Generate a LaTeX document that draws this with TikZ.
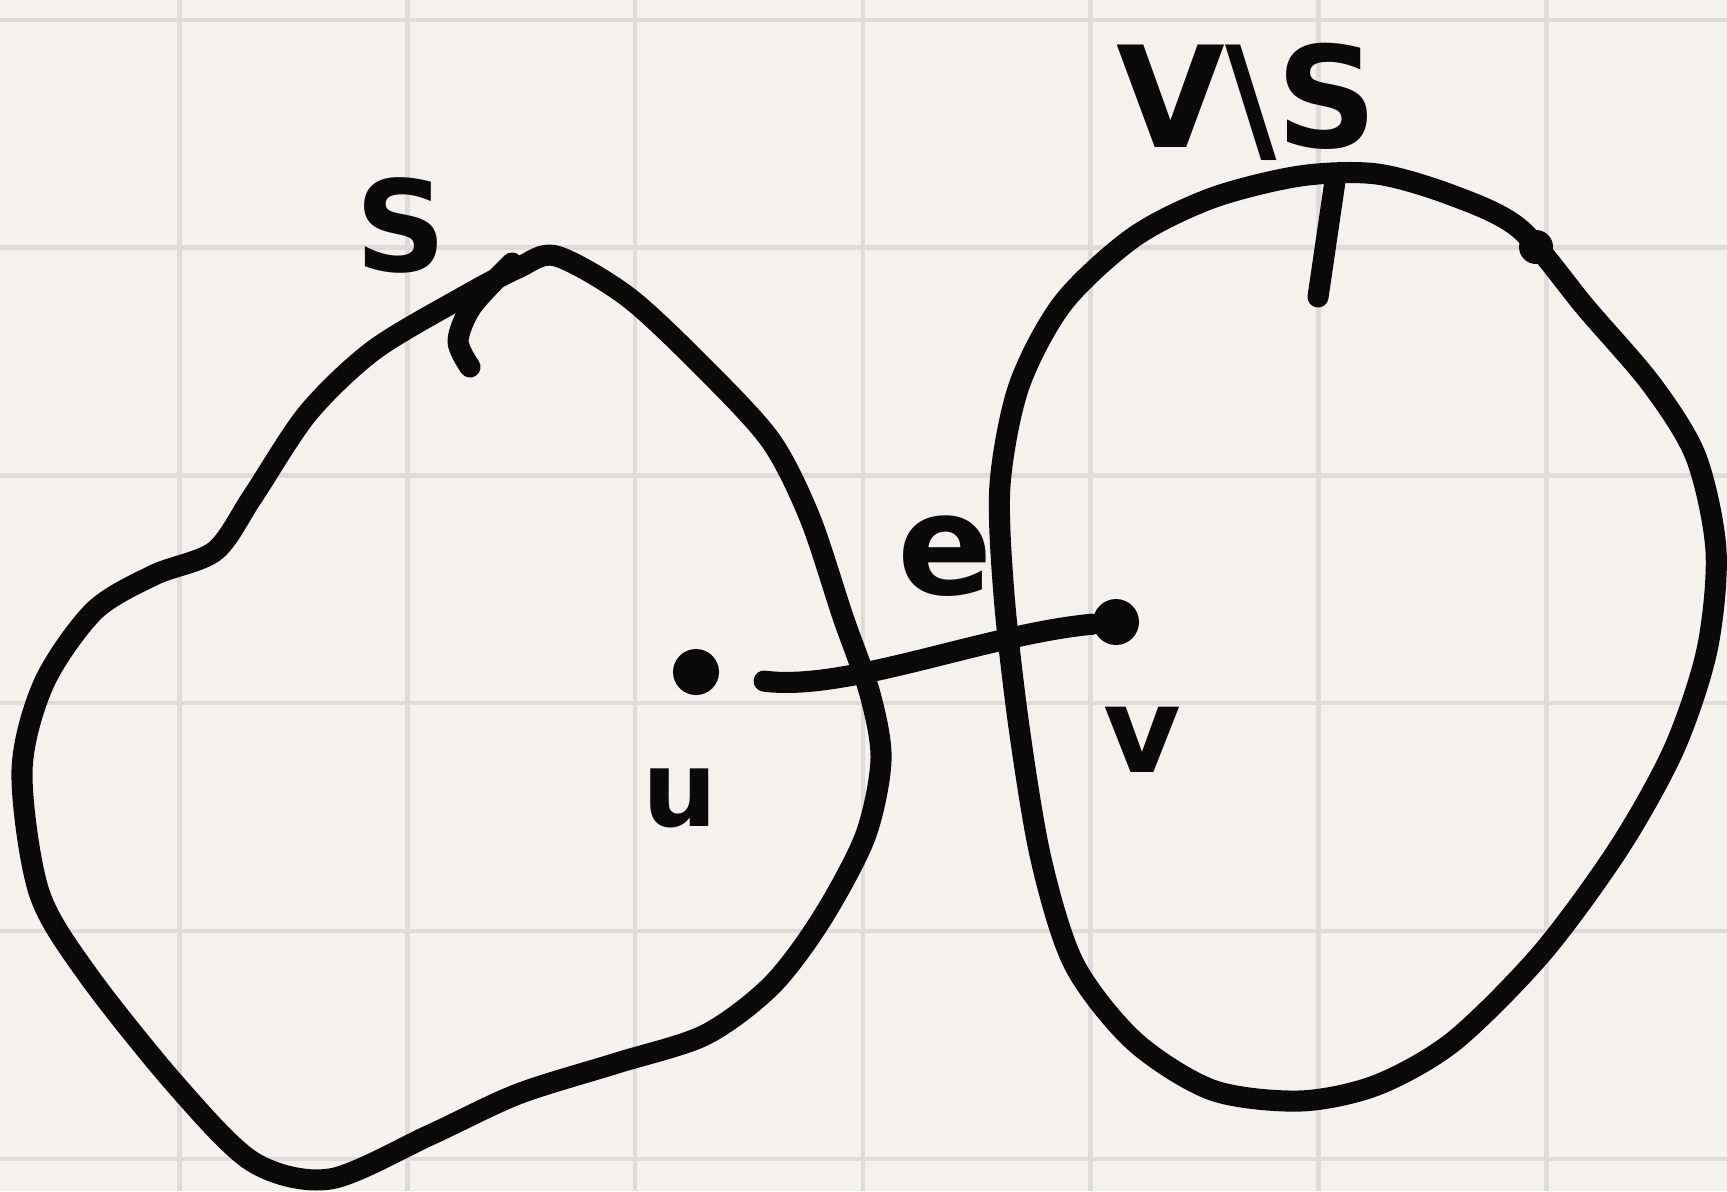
\documentclass[tikz,border=0pt]{standalone}
\usepackage{fontspec}
\setmainfont{DejaVu Sans}
\usetikzlibrary{positioning}
\definecolor{paper}{HTML}{F3F2EE}
\definecolor{gridgray}{HTML}{DDDCDA}
\definecolor{ink}{HTML}{0A0A0A}
\tikzset{
  %% strokes
  pen/.style      = {draw=ink, line width=6pt, line cap=round, line join=round},
  gridline/.style = {draw=gridgray, line width=1.3pt},
  %% nodes
  dot/.style      = {circle, fill=ink, inner sep=0pt, minimum size=4.6mm},
  lbl/.style      = {text=ink, inner sep=0pt, font=\bfseries\fontsize{36}{40}\selectfont},
}

\begin{document}
\begin{tikzpicture}
\useasboundingbox (0,0) rectangle (17.27,11.91);
\fill[paper] (0,0) rectangle (17.27,11.91);

%% ---- grid paper ----
\foreach \i in {0,...,6}
  \draw[gridline] ({1.795+2.278*\i},0) -- ++(0,11.91);
\foreach \j in {0,...,5}
  \draw[gridline] (0,{11.712-2.278*\j}) -- ++(17.27,0);

%% ---- set S (left) ----
\draw[pen] plot[smooth cycle] coordinates {
  (5.56,9.35) (6.28,8.94) (7.05,8.22) (7.71,7.50) (8.10,6.73) (8.43,5.74)
  (8.70,4.97) (8.81,4.31) (8.65,3.54) (8.21,2.71) (7.71,2.05) (7.05,1.56)
  (6.17,1.28) (5.18,0.97) (4.30,0.56) (3.30,0.12) (2.53,0.29) (1.76,1.06)
  (0.88,2.16) (0.39,2.99) (0.22,4.20) (0.44,5.08) (0.94,5.80) (1.54,6.16)
  (2.15,6.40) (2.53,6.95) (3.08,7.78) (3.74,8.41) (4.63,8.94) (5.18,9.23)};
\draw[pen] plot[smooth] coordinates {(5.12,9.28) (4.72,8.85) (4.58,8.50) (4.70,8.24)};
\node[lbl] (setS) at (4.01,9.66) {S};

%% ---- set V\S (right) ----
\draw[pen] plot[smooth cycle] coordinates {
  (13.00,10.15) (13.77,10.17) (14.54,9.95) (15.20,9.62) (15.86,8.83)
  (16.52,8.06) (16.96,7.34) (17.16,6.40) (17.07,5.41) (16.74,4.42)
  (16.19,3.43) (15.42,2.38) (14.54,1.50) (13.77,1.06) (13.00,0.90)
  (12.12,1.01) (11.34,1.50) (10.74,2.27) (10.41,3.32) (10.19,4.64)
  (10.04,5.96) (10.00,7.06) (10.19,8.05) (10.63,8.88) (11.34,9.54)
  (12.12,9.93)};
\fill[ink] (15.36,9.44) circle (0.17);
\draw[pen] (13.35,10.10) -- (13.18,8.94);
\node[lbl, font=\bfseries\fontsize{40}{44}\selectfont] (setVS) at (12.47,10.89) {V\textbackslash S};

%% ---- edge e between u and v ----
\node[dot] (u) at (6.96,5.19) {};
\node[dot] (v) at (11.16,5.69) {};
\draw[pen, shorten <=4.5mm] (u) .. controls +(1.5,-0.2) and +(-1.3,-0.12) .. (v);

\node[lbl, font=\bfseries\fontsize{40}{44}\selectfont] (lble) at (9.45,6.35) {e};
\node[lbl, font=\bfseries\fontsize{30}{34}\selectfont] (lblu) at (6.80,3.93) {u};
\node[lbl, font=\bfseries\fontsize{34}{38}\selectfont] (lblv) at (11.42,4.51) {v};
\end{tikzpicture}
\end{document}
